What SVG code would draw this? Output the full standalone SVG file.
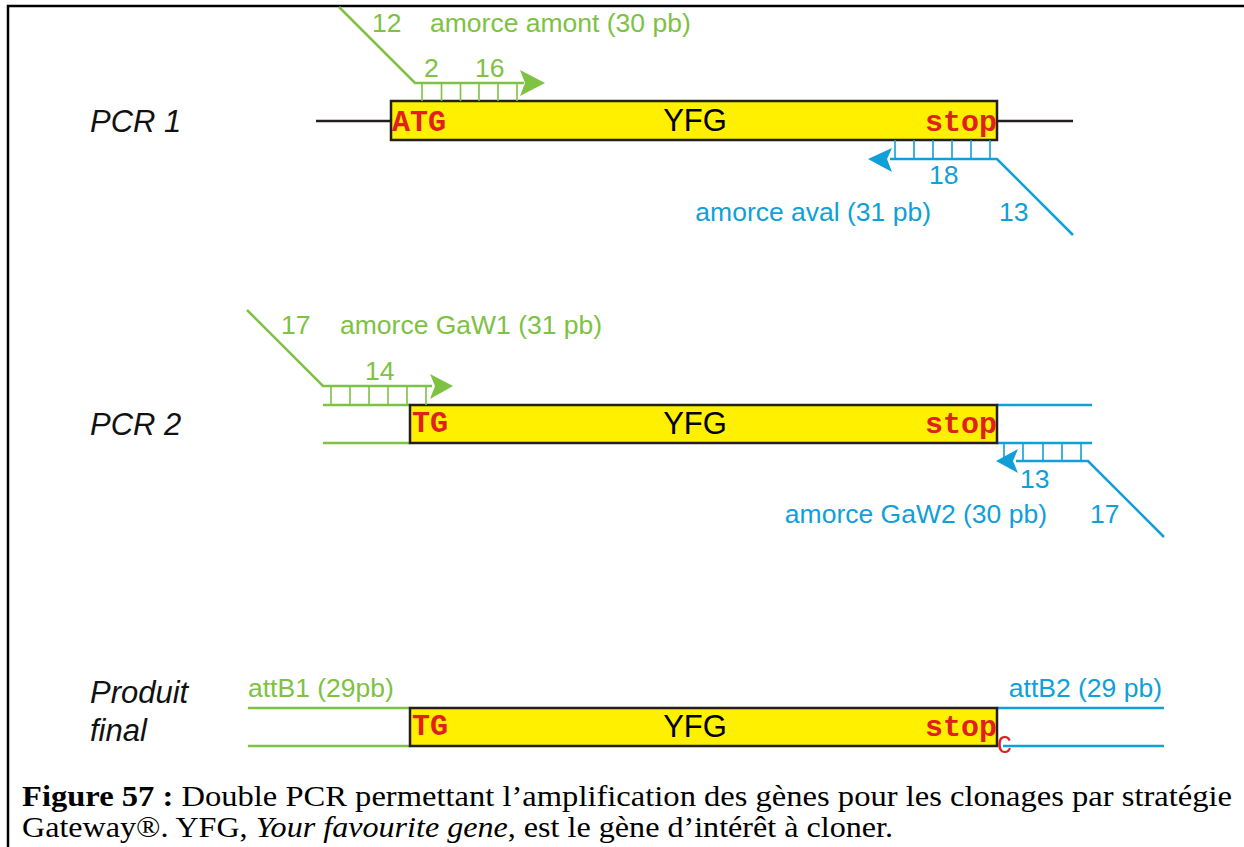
<svg xmlns="http://www.w3.org/2000/svg" width="1244" height="847" viewBox="0 0 1244 847">
<style>
.g{stroke:#7DC242;fill:none;stroke-width:2.5}
.gt{stroke:#7DC242;fill:none;stroke-width:1.6}
.b{stroke:#0FA0DA;fill:none;stroke-width:2.5}
.bt{stroke:#0FA0DA;fill:none;stroke-width:1.6}
.k{stroke:#231F20;fill:none;stroke-width:2.5}
.box{fill:#FFF000;stroke:#231F20;stroke-width:2.5}
.gf{fill:#7DC242}
.bf{fill:#0FA0DA}
.lab{font-family:"Liberation Sans",Arial,sans-serif;font-size:26.5px}
.gl{fill:#7DC242}
.bl{fill:#0FA0DA}
.yfg{font-family:"Liberation Sans",Arial,sans-serif;font-size:31px;fill:#000;text-anchor:middle}
.cod{font-family:"Liberation Mono","Courier New",monospace;font-size:30px;font-weight:bold;fill:#E0201E}
.row{font-family:"Liberation Sans",Arial,sans-serif;font-size:31px;font-style:italic;fill:#111}
.cap{font-family:"Liberation Serif","Times New Roman",serif;font-size:30px;fill:#000}
</style>
<rect x="0" y="0" width="1244" height="847" fill="#fff"/>
<path d="M8,847 V6 H1244" stroke="#000" stroke-width="2.5" fill="none"/>

<g id="row-labels">
<text class="row" x="90" y="132">PCR 1</text>
<text class="row" x="90" y="435">PCR 2</text>
<text class="row" x="90" y="703">Produit</text>
<text class="row" x="90" y="741">final</text>
</g>

<g id="pcr1">
<line class="k" x1="316" y1="121" x2="391" y2="121"/>
<line class="k" x1="997" y1="121" x2="1073" y2="121"/>
<rect class="box" x="391" y="101" width="606" height="39"/>
<text class="cod" x="392" y="131">ATG</text>
<text class="yfg" x="695" y="131">YFG</text>
<text class="cod" x="997" y="131" text-anchor="end">stop</text>
</g>

<g id="primer-amont">
<path class="g" d="M339,7 L415,83 H524"/>
<polygon class="gf" points="545,83 520,70 525,83 520,96"/>
<path class="gt" d="M422,83V101M441.5,83V101M460.5,83V101M479,83V101M498,83V101M517,83V101"/>
<text class="lab gl" x="372" y="32">12</text>
<text class="lab gl" x="430" y="32">amorce amont (30 pb)</text>
<text class="lab gl" x="424" y="77">2</text>
<text class="lab gl" x="475" y="77">16</text>
</g>

<g id="primer-aval">
<path class="b" d="M1073,235 L997,159 H890"/>
<polygon class="bf" points="868,159 892,148 887,159 892,172"/>
<path class="bt" d="M895,140V159M914,140V159M933,140V159M952,140V159M971,140V159M990,140V159"/>
<text class="lab bl" x="929" y="184">18</text>
<text class="lab bl" x="931" y="221" text-anchor="end">amorce aval (31 pb)</text>
<text class="lab bl" x="999" y="221">13</text>
</g>

<g id="pcr2">
<line class="g" x1="323" y1="405" x2="410" y2="405"/>
<line class="g" x1="323" y1="443" x2="410" y2="443"/>
<line class="b" x1="997" y1="405" x2="1092" y2="405"/>
<line class="b" x1="997" y1="443" x2="1092" y2="443"/>
<rect class="box" x="410" y="405" width="587" height="38"/>
<text class="cod" x="412" y="432">TG</text>
<text class="yfg" x="695" y="434">YFG</text>
<text class="cod" x="997" y="433" text-anchor="end">stop</text>
</g>

<g id="primer-gaw1">
<path class="g" d="M247,310 L323,386 H432"/>
<polygon class="gf" points="453,386 430,374 435,386 430,399"/>
<path class="gt" d="M331,386V405M350,386V405M369,386V405M388,386V405M407,386V405M426,386V405"/>
<text class="lab gl" x="281" y="334">17</text>
<text class="lab gl" x="340" y="334">amorce GaW1 (31 pb)</text>
<text class="lab gl" x="365" y="380">14</text>
</g>

<g id="primer-gaw2">
<path class="b" d="M1164,537 L1088,461 H1016"/>
<polygon class="bf" points="996,461 1018,449 1013,461 1018,473"/>
<path class="bt" d="M1004,443V461M1023,443V461M1043,443V461M1062,443V461M1081,443V461"/>
<text class="lab bl" x="1020" y="488">13</text>
<text class="lab bl" x="1047" y="523" text-anchor="end">amorce GaW2 (30 pb)</text>
<text class="lab bl" x="1090" y="523">17</text>
</g>

<g id="produit-final">
<line class="g" x1="248" y1="708" x2="410" y2="708"/>
<line class="g" x1="248" y1="746" x2="410" y2="746"/>
<line class="b" x1="997" y1="708" x2="1164" y2="708"/>
<line class="b" x1="1003" y1="746" x2="1164" y2="746"/>
<rect class="box" x="410" y="708" width="587" height="38"/>
<text class="cod" x="412" y="735">TG</text>
<text class="yfg" x="695" y="737">YFG</text>
<text class="cod" x="997" y="736" text-anchor="end">stop</text>
<text x="997" y="753" font-family="'Liberation Mono','Courier New',monospace" font-size="25" fill="#E0201E">C</text>
<text class="lab gl" x="248" y="697">attB1 (29pb)</text>
<text class="lab bl" x="1162" y="697" text-anchor="end">attB2 (29 pb)</text>
</g>

<g id="caption">
<text class="cap" x="22" y="806" textLength="1210" lengthAdjust="spacingAndGlyphs"><tspan font-weight="bold">Figure 57 :</tspan> Double PCR permettant l’amplification des gènes pour les clonages par stratégie</text>
<text class="cap" x="22" y="837" textLength="871" lengthAdjust="spacingAndGlyphs">Gateway®. YFG, <tspan font-style="italic">Your favourite gene</tspan>, est le gène d’intérêt à cloner.</text>
</g>
</svg>
